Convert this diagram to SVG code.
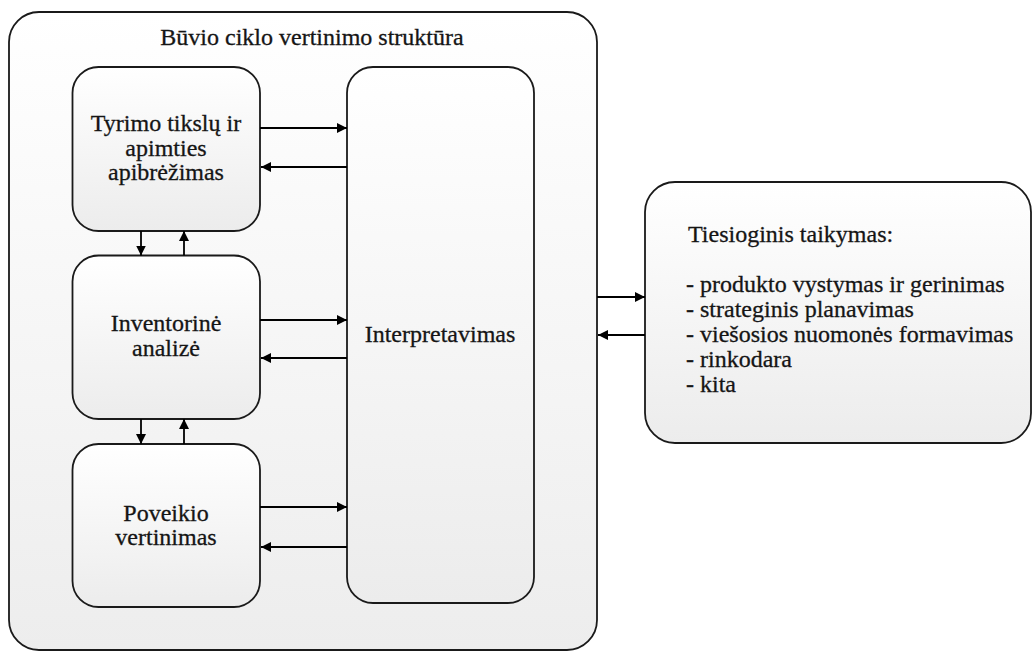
<svg xmlns="http://www.w3.org/2000/svg" width="1034" height="652" viewBox="0 0 1034 652">
  <style>
    .box { stroke: #1a1a1a; stroke-width: 1.8; }
    .lbl { font-family: "Liberation Serif", "Times New Roman", serif; font-size: 24px; fill: #151515; stroke: #151515; stroke-width: 0.3; }
    .mid { text-anchor: middle; }
    .wire { stroke: #000; stroke-width: 1.8; fill: none; }
  </style>
  <defs>
    <linearGradient id="fillOuter" x1="0" y1="0" x2="0" y2="1">
      <stop offset="0" stop-color="#ffffff"/>
      <stop offset="1" stop-color="#ededed"/>
    </linearGradient>
    <linearGradient id="fillBox" x1="0" y1="0" x2="0" y2="1">
      <stop offset="0" stop-color="#ffffff"/>
      <stop offset="1" stop-color="#ececec"/>
    </linearGradient>
    <marker id="head" viewBox="0 0 10 10" refX="10" refY="5" markerWidth="10" markerHeight="10" markerUnits="userSpaceOnUse" orient="auto">
      <path d="M0,0 L10,5 L0,10 Z" fill="#000"/>
    </marker>
  </defs>

  <!-- Frame: life cycle assessment structure -->
  <g id="frame">
    <rect class="box" x="9" y="12" width="588" height="638" rx="30" ry="30" fill="url(#fillOuter)" stroke-width="2"/>
    <text class="lbl mid" x="312" y="45">Būvio ciklo vertinimo struktūra</text>
  </g>

  <g id="goal">
    <rect class="box" x="72.5" y="67" width="187.5" height="164" rx="26" ry="26" fill="url(#fillBox)"/>
    <text class="lbl mid" x="166" y="131">Tyrimo tikslų ir</text>
    <text class="lbl mid" x="166" y="155.5">apimties</text>
    <text class="lbl mid" x="166" y="180">apibrėžimas</text>
  </g>

  <g id="inventory">
    <rect class="box" x="72.5" y="255.5" width="187.5" height="163.5" rx="26" ry="26" fill="url(#fillBox)"/>
    <text class="lbl mid" x="166" y="331">Inventorinė</text>
    <text class="lbl mid" x="166" y="355.5">analizė</text>
  </g>

  <g id="impact">
    <rect class="box" x="72.5" y="444" width="187.5" height="163" rx="26" ry="26" fill="url(#fillBox)"/>
    <text class="lbl mid" x="166" y="520.5">Poveikio</text>
    <text class="lbl mid" x="166" y="545">vertinimas</text>
  </g>

  <g id="interpretation">
    <rect class="box" x="347" y="67" width="187" height="536" rx="26" ry="26" fill="url(#fillBox)"/>
    <text class="lbl mid" x="440" y="342">Interpretavimas</text>
  </g>

  <g id="application">
    <rect class="box" x="645" y="182" width="386" height="261" rx="30" ry="30" fill="url(#fillBox)"/>
    <text class="lbl" x="688" y="242">Tiesioginis taikymas:</text>
    <text class="lbl" x="686" y="292">- produkto vystymas ir gerinimas</text>
    <text class="lbl" x="686" y="317">- strateginis planavimas</text>
    <text class="lbl" x="686" y="342">- viešosios nuomonės formavimas</text>
    <text class="lbl" x="686" y="367">- rinkodara</text>
    <text class="lbl" x="686" y="392">- kita</text>
  </g>

  <g id="connectors">
    <!-- phases to interpretation and back -->
    <line class="wire" x1="260" y1="128" x2="347" y2="128" marker-end="url(#head)"/>
    <line class="wire" x1="347" y1="167" x2="261" y2="167" marker-end="url(#head)"/>
    <line class="wire" x1="260" y1="320" x2="347" y2="320" marker-end="url(#head)"/>
    <line class="wire" x1="347" y1="358" x2="261" y2="358" marker-end="url(#head)"/>
    <line class="wire" x1="260" y1="507" x2="347" y2="507" marker-end="url(#head)"/>
    <line class="wire" x1="347" y1="547" x2="261" y2="547" marker-end="url(#head)"/>
    <!-- between stacked phases -->
    <line class="wire" x1="141" y1="231" x2="141" y2="255.5" marker-end="url(#head)"/>
    <line class="wire" x1="184" y1="255.5" x2="184" y2="231" marker-end="url(#head)"/>
    <line class="wire" x1="141" y1="419" x2="141" y2="444" marker-end="url(#head)"/>
    <line class="wire" x1="184" y1="444" x2="184" y2="419" marker-end="url(#head)"/>
    <!-- frame to direct applications -->
    <line class="wire" x1="597" y1="297" x2="645" y2="297" marker-end="url(#head)"/>
    <line class="wire" x1="645" y1="335" x2="598" y2="335" marker-end="url(#head)"/>
  </g>
</svg>
